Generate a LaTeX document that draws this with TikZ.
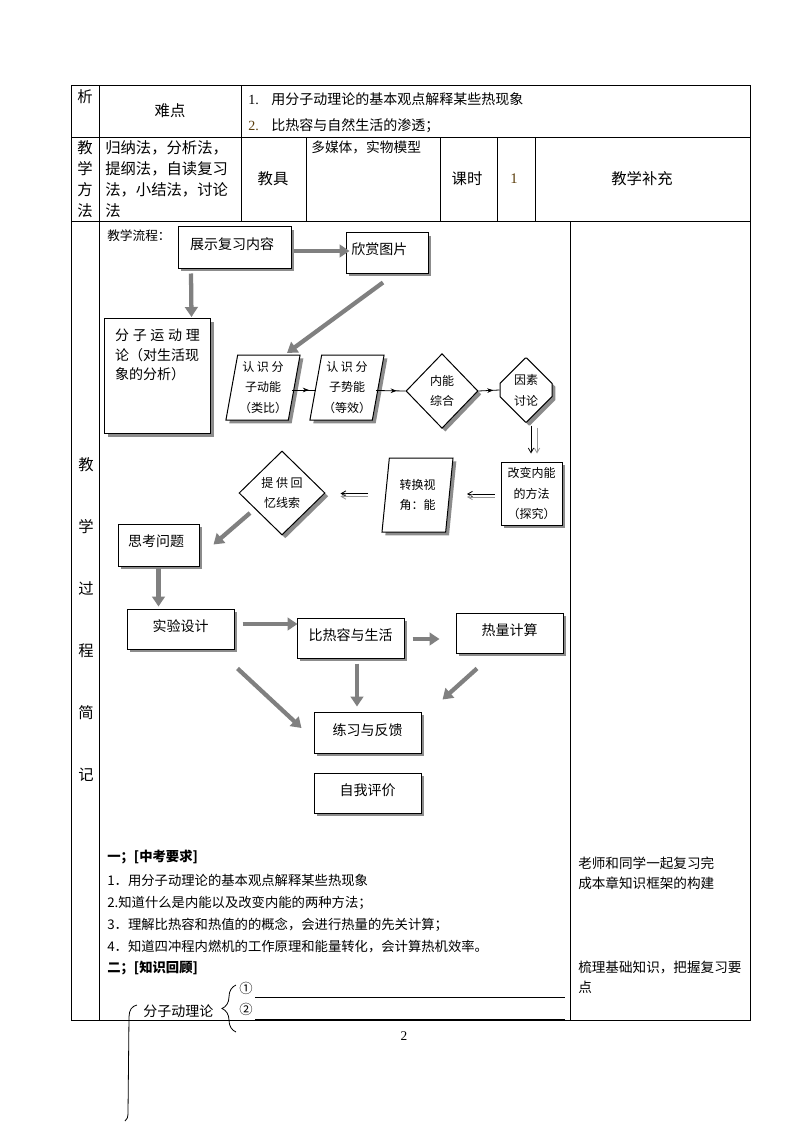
\documentclass[tikz,border=0pt]{standalone}
\usepackage{fontspec}
\setmainfont{Noto Sans CJK SC}
\newfontfamily\numfont{Liberation Serif}
\usetikzlibrary{arrows.meta, positioning, shapes.geometric, shapes.misc, shadows, decorations.pathreplacing, decorations.markings}
\definecolor{arrowgray}{RGB}{128,128,128}
\definecolor{shadegray}{RGB}{140,140,140}
\definecolor{linegray}{RGB}{150,150,150}
\definecolor{numbrown}{RGB}{90,60,10}

\tikzset{
  tabline/.style={line width=0.75pt},
  lbl/.style={inner sep=0pt, font=\fontsize{11.5pt}{15.75pt}\selectfont},
  body/.style={inner sep=0pt, anchor=west, font=\fontsize{10pt}{12pt}\selectfont},
  flowbox/.style={draw, fill=white, line width=0.75pt, inner sep=2pt,
    font=\fontsize{10.5pt}{13pt}\selectfont,
    drop shadow={shadow xshift=2.5pt, shadow yshift=-2.5pt, fill=shadegray, opacity=1}},
  widebox/.style={flowbox, minimum width=80.25pt, minimum height=30pt, text depth=5pt},
  smallfont/.style={font=\fontsize{9pt}{15.5pt}\selectfont, align=center, inner sep=1pt},
  slantbox/.style={flowbox, smallfont, trapezium, trapezium left angle=78,
    trapezium right angle=102, trapezium stretches body},
  bigarrow/.style={arrowgray, line width=3.2pt, -{Triangle[length=7.5pt, width=9.5pt]}},
  midarrow/.style={line width=0.6pt, postaction=decorate,
    decoration={markings, mark=at position 0.7 with {\arrow{Stealth[length=4.5pt, width=3.5pt]}}}},
  blackarrow/.style={line width=0.6pt, -{Straight Barb[length=3.5pt, width=4pt]}},
  grayarrow/.style={linegray, line width=0.6pt, -{Straight Barb[length=3.5pt, width=4pt]}}
}

\begin{document}
\begin{tikzpicture}[x=0.75pt, y=-0.75pt]
\fill[white] (0,0) rectangle (794,1123);
\useasboundingbox (0,0) rectangle (794,1123);

% table
\draw[tabline] (71,86) rectangle (750,1020);
\draw[tabline] (71,138) -- (750,138);
\draw[tabline] (71,222) -- (750,222);
\draw[tabline] (99,86) -- (99,1020);
\draw[tabline] (241,86) -- (241,222);
\foreach \xx in {306,440,497,535} \draw[tabline] (\xx,138) -- (\xx,222);
\draw[tabline] (570,222) -- (570,1020);

% row 1
\node[lbl] (xi) at (85,97) {析};
\node[lbl] (nandian) at (170,111) {难点};
\node[body, font=\fontsize{10.5pt}{12pt}\selectfont] (diff1) at (248,99.5) {{\numfont 1.}\hspace{9.4pt}用分子动理论的基本观点解释某些热现象};
\node[body, font=\fontsize{10.5pt}{12pt}\selectfont] (diff2) at (248,126) {{\numfont\color{numbrown}2.}\hspace{9.4pt}比热容与自然生活的渗透；};

% row 2
\node[lbl, align=center] (method) at (85,179.5) {教\\学\\方\\法};
\node[lbl, align=left, anchor=west] (methods) at (105,179.5) {归纳法，分析法，\\提纲法，自读复习\\法，小结法，讨论\\法};
\node[lbl] (tools) at (273,179) {教具};
\node[body, anchor=north west, font=\fontsize{10.3pt}{12pt}\selectfont] (media) at (311,141) {多媒体，实物模型};
\node[lbl] (hours) at (467,179) {课时};
\node[lbl, numbrown, font=\numfont\fontsize{11pt}{13pt}\selectfont] (hournum) at (514,179) {1};
\node[lbl] (extra) at (642,179) {教学补充};

% row 3 label
\foreach \ch [count=\i] in {教,学,过,程,简,记}
  \node[lbl] (proc\i) at (86,{403+62*\i}) {\ch};

% flow chart
\node[body, font=\fontsize{9.5pt}{12pt}\selectfont] (flowtitle) at (107,236) {教学流程：};
\node[flowbox, minimum width=84.75pt, minimum height=30.75pt, text width=66.75pt,
  inner xsep=9pt, align=left, text depth=6pt] (show) at (234.5,247.5) {展示复习内容};
\node[flowbox, minimum width=61.5pt, minimum height=30pt, text width=53.5pt,
  inner xsep=4pt, align=left, text depth=6pt] (enjoy) at (387,253) {欣赏图片};
\node[flowbox, anchor=north west, inner xsep=8pt, inner ysep=8pt,
  font=\fontsize{10.5pt}{14.6pt}\selectfont] (theory) at (104,318)
  {\parbox[t][70.25pt][t]{63.5pt}{分\hfill 子\hfill 运\hfill 动\hfill 理\\论（对生活现\\象的分析）}};
\node[slantbox, minimum width=52.5pt, minimum height=48.75pt] (kinetic) at (263,387.5) {认 识 分\\子动能\\（类比）};
\node[slantbox, minimum width=52.5pt, minimum height=48.75pt] (potential) at (347,387.5) {认 识 分\\子势能\\（等效）};
\node[flowbox, smallfont, diamond, aspect=1, inner sep=0pt, minimum width=54pt,
  minimum height=56pt] (inner) at (442,391) {内能\\综合};
\node[flowbox, smallfont, chamfered rectangle, chamfered rectangle xsep=9pt,
  chamfered rectangle ysep=11pt, minimum width=39pt, minimum height=48pt] (factor) at (526,390) {因素\\讨论};
\node[flowbox, smallfont, minimum width=45.75pt, minimum height=47.25pt] (change) at (531.5,493.5) {改变内能\\的方法\\（探究）};
\node[slantbox, minimum width=53.25pt, minimum height=55.5pt] (viewpoint) at (417.5,495) {转换视\\角：能};
\node[flowbox, smallfont, diamond, aspect=1, inner sep=0pt, minimum width=64.5pt,
  minimum height=63pt] (clue) at (282,493) {提 供 回\\忆线索};
\node[flowbox, minimum width=60.75pt, minimum height=31.5pt, text width=45.75pt,
  inner xsep=7.5pt, align=left, text depth=6pt] (think) at (158.5,545) {思考问题};
\node[widebox] (design) at (180.5,629) {实验设计};
\node[widebox] (life) at (350.5,638) {比热容与生活};
\node[widebox] (heat) at (509.5,633) {热量计算};
\node[widebox, minimum height=30.75pt] (practice) at (367.5,732.5) {练习与反馈};
\node[widebox] (selfeval) at (367.5,793) {自我评价};

% connectors
\draw[bigarrow] ([shift={(2,3.5)}]show.east) -- ([shift={(4,-2)}]enjoy.west);
\draw[bigarrow] ([shift={(-43.5,5)}]show.south) -- ([shift={(34,-1)}]theory.north);
\draw[bigarrow] ([shift={(-4,9)}]enjoy.south) -- ([shift={(24,-34.5)}]kinetic.center);
\draw[midarrow] ([shift={(29,2.5)}]kinetic.center) -- ([shift={(-31,2.5)}]potential.center);
\draw[midarrow] ([shift={(29,3)}]potential.center) -- (inner.west);
\draw[midarrow] (inner.east) -- (factor.west);
\draw[blackarrow] ([shift={(5,3)}]factor.south) -- ([shift={(-0.5,-8)}]change.north);
\draw[grayarrow] ([shift={(11,5)}]factor.south) -- ([shift={(5.5,-8)}]change.north);
\draw[blackarrow] ([shift={(-6,0.5)}]change.west) -- ([shift={(49.5,-1)}]viewpoint.center);
\draw[grayarrow] ([shift={(-6,3.5)}]change.west) -- ([shift={(49.5,2)}]viewpoint.center);
\draw[blackarrow] ([shift={(-49.5,-1.5)}]viewpoint.center) -- ([shift={(15,0.5)}]clue.east);
\draw[grayarrow] ([shift={(-49.5,1.5)}]viewpoint.center) -- ([shift={(15,3.5)}]clue.east);
\draw[bigarrow] ([shift={(-32,20)}]clue.center) -- ([shift={(14,21)}]think.north east);
\draw[bigarrow] ([shift={(0,1)}]think.south) -- ([shift={(-22,-2)}]design.north);
\draw[bigarrow] ([shift={(8,-5)}]design.east) -- ([shift={(1,-14)}]life.west);
\draw[bigarrow] ([shift={(8,1)}]life.east) -- ([shift={(-16,6)}]heat.west);
\draw[bigarrow] ([shift={(3,19)}]design.south east) -- ([shift={(-12,-4.5)}]practice.west);
\draw[bigarrow] ([shift={(6.5,5)}]life.south) -- ([shift={(-10.5,-5)}]practice.north);
\draw[bigarrow] ([shift={(-32.5,15)}]heat.south) -- ([shift={(21,-12)}]practice.north east);

% requirements
\node[body, font=\bfseries\fontsize{10pt}{12pt}\selectfont] (req) at (107,857) {一；[中考要求]};
\node[body] (req1) at (107,880) {1．用分子动理论的基本观点解释某些热现象};
\node[body] (req2) at (107,903) {2.知道什么是内能以及改变内能的两种方法；};
\node[body] (req3) at (107,925) {3．理解比热容和热值的的概念，会进行热量的先关计算；};
\node[body] (req4) at (107,947) {4．知道四冲程内燃机的工作原理和能量转化，会计算热机效率。};
\node[body, font=\bfseries\fontsize{10pt}{12pt}\selectfont] (review) at (107,968) {二；[知识回顾]};

% notes column
\node[body, align=left, font=\fontsize{10.2pt}{15pt}\selectfont] (note1) at (578,873) {老师和同学一起复习完\\成本章知识框架的构建};
\node[body, align=left, font=\fontsize{10.2pt}{15pt}\selectfont] (note2) at (578,977) {梳理基础知识，把握复习要\\点};

% knowledge review
\node[body, font=\fontsize{10.5pt}{12pt}\selectfont] (theoryname) at (143,1011) {分子动理论};
\node[body] (circ1) at (239,988) {①};
\node[body] (circ2) at (239,1009) {②};
\draw[tabline] (255,997) -- (565,997);
\draw[tabline] (255,1019) -- (565,1019);
\draw[line width=0.6pt, decorate, decoration={brace, amplitude=10.5pt}] (236,1032) -- (236,985);
\draw[line width=0.6pt] (137,1005) .. controls (132,1006) and (129,1010) .. (129,1017) -- (128,1113)
  .. controls (128,1117) and (127,1120) .. (125,1121);

\node[inner sep=0pt, font=\numfont\fontsize{10pt}{12pt}\selectfont] (pagenum) at (404,1036) {2};
\end{tikzpicture}
\end{document}
